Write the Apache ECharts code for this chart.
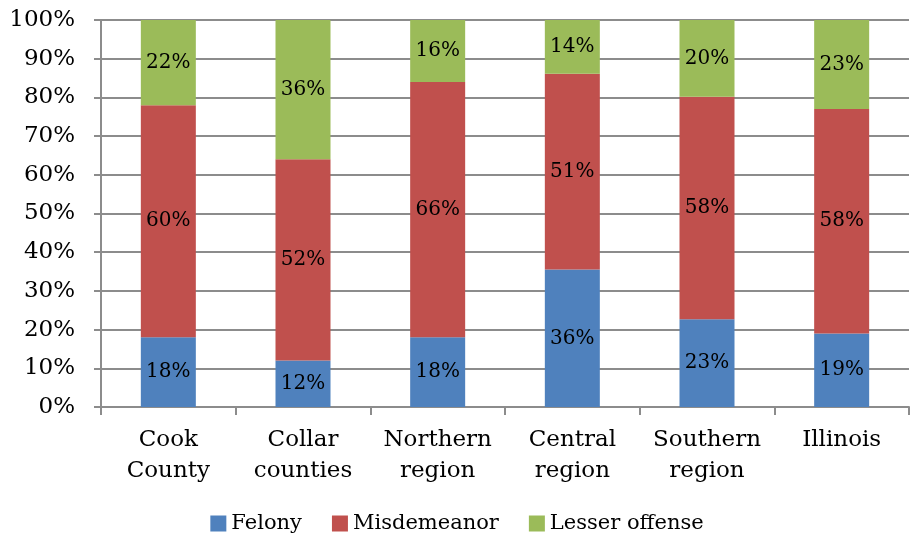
<!DOCTYPE html>
<html>
<head>
<meta charset="utf-8">
<script src="https://cdn.jsdelivr.net/npm/echarts@6/dist/echarts.min.js"></script>
<style>
  html, body { margin: 0; padding: 0; background: #fff; }
  #chart { width: 914px; height: 542px; }
</style>
</head>
<body>
<div id="chart"></div>
<script>
// categories and shares (%) (labels show rounded values)
const categories = ["Cook\nCounty", "Collar\ncounties", "Northern\nregion", "Central\nregion", "Southern\nregion", "Illinois"];
const felony = [18, 12, 18, 35.5, 22.7, 19];
const misdemeanor = [60, 52, 66, 50.6, 57.5, 58];
const lesserOffense = [22, 36, 16, 13.9, 19.8, 23];
const yTicks = [0, 10, 20, 30, 40, 50, 60, 70, 80, 90, 100];

const font = "DejaVu Serif";
const gridColor = "#8c8c8c";

const chart = echarts.init(document.getElementById("chart"));

const barSeries = (name, data, color) => ({
  name: name,
  type: "bar",
  stack: "total",
  data: data,
  barWidth: 55,
  itemStyle: { color: color },
  label: {
    show: true,
    position: "inside",
    formatter: (p) => Math.round(p.value) + "%",
    fontFamily: font,
    fontSize: 20,
    color: "#000"
  },
  emphasis: { disabled: true }
});

chart.setOption({
  animation: false,
  grid: { left: 101, right: 5, top: 20, bottom: 135 },
  legend: {
    bottom: 3,
    left: "center",
    itemWidth: 16,
    itemHeight: 16,
    itemGap: 30,
    icon: "rect",
    textStyle: { fontFamily: font, fontSize: 21, color: "#000" },
    data: ["Felony", "Misdemeanor", "Lesser offense"]
  },
  xAxis: {
    type: "category",
    data: categories,
    axisLine: { lineStyle: { color: gridColor, width: 2 } },
    axisTick: { show: true, length: 8, lineStyle: { color: gridColor, width: 2 } },
    axisLabel: {
      interval: 0,
      margin: 18,
      fontFamily: font,
      fontSize: 23,
      lineHeight: 31,
      color: "#000"
    }
  },
  yAxis: {
    type: "value",
    min: yTicks[0],
    max: yTicks[yTicks.length - 1],
    interval: 10,
    axisLine: { show: true, lineStyle: { color: gridColor, width: 2 } },
    axisTick: { show: true, length: 7, lineStyle: { color: gridColor, width: 2 } },
    splitLine: { show: true, lineStyle: { color: gridColor, width: 2 } },
    axisLabel: {
      margin: 26,
      formatter: "{value}%",
      fontFamily: font,
      fontSize: 23,
      color: "#000"
    }
  },
  series: [
    barSeries("Felony", felony, "#4f81bd"),
    barSeries("Misdemeanor", misdemeanor, "#c0504d"),
    barSeries("Lesser offense", lesserOffense, "#9bbb59")
  ]
});
</script>
</body>
</html>
